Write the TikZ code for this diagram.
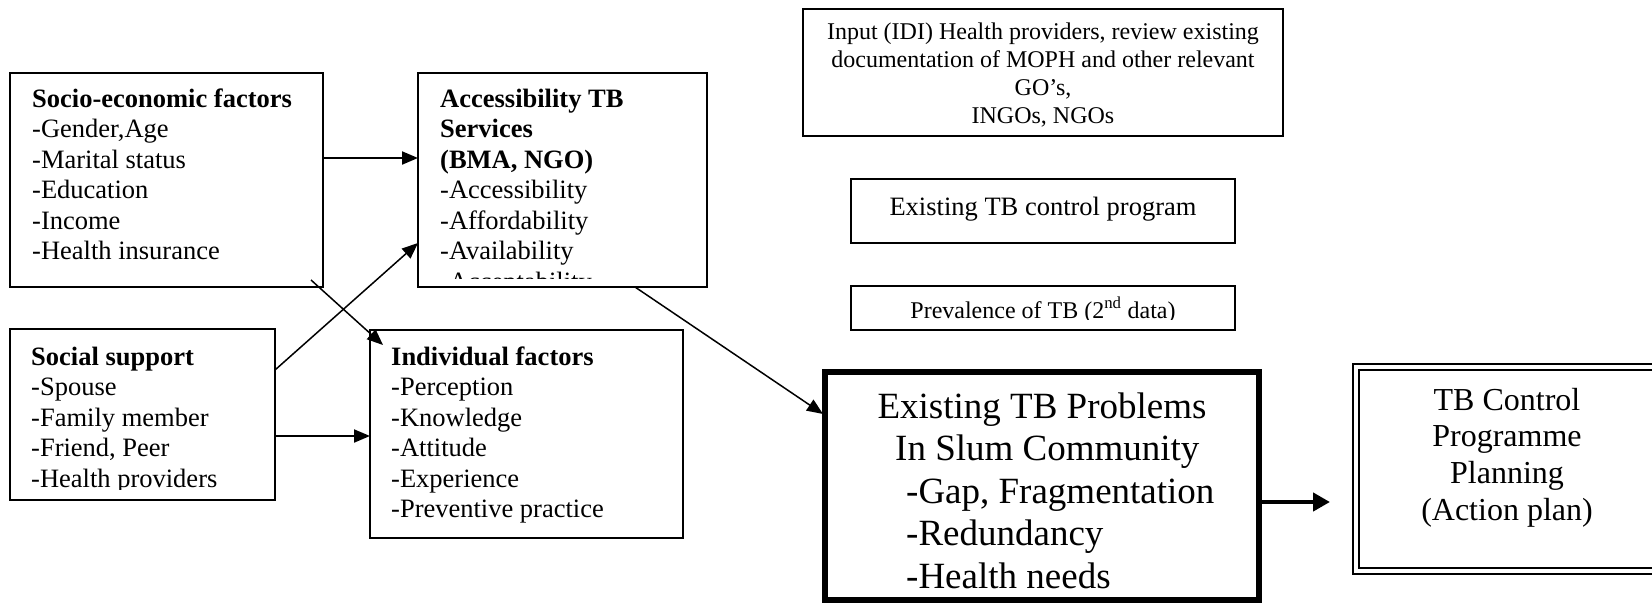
\documentclass[tikz,border=0pt]{standalone}
\usepackage{fontspec}
\setmainfont{Liberation Serif}
\usetikzlibrary{arrows.meta,calc}

\begin{document}
\begin{tikzpicture}[x=1pt,y=-1pt,
  frame/.style={draw,rectangle,line width=1.3pt,inner sep=0pt,outer sep=0pt},
  body/.style={font=\fontsize{26.5}{30.5}\selectfont,inner sep=0pt,anchor=base west},
  note/.style={font=\fontsize{24}{28}\selectfont,inner sep=0pt,anchor=base},
  big/.style={font=\fontsize{37}{42.5}\selectfont,inner sep=0pt},
  plantext/.style={font=\fontsize{32}{36.7}\selectfont,inner sep=0pt,anchor=base},
  link/.style={line width=1.5pt,-{Triangle[length=16pt,width=13pt]}},
  heavylink/.style={line width=4.5pt,-{Triangle[length=17pt,width=18pt]}}
]
\useasboundingbox (0,0) rectangle (1652,603);

% ---- frames ----
\node[frame,minimum width=313pt,minimum height=214pt] (soc)  at (166.5,180) {};
\node[frame,minimum width=289pt,minimum height=214pt] (acc)  at (562.5,180) {};
\node[frame,minimum width=265pt,minimum height=171pt] (sup)  at (142.5,414.5) {};
\node[frame,minimum width=313pt,minimum height=208pt] (ind)  at (526.5,434) {};
\node[frame,minimum width=480pt,minimum height=127pt] (inp)  at (1043,72.5) {};
\node[frame,minimum width=384pt,minimum height=64pt]  (ctl)  at (1043,211) {};
\node[frame,minimum width=384pt,minimum height=44pt]  (prev) at (1043,308) {};
\node[frame,line width=6pt,minimum width=434pt,minimum height=228pt] (prob) at (1042,486) {};
\node[frame,line width=2pt,minimum width=308pt,minimum height=210pt] (plan) at (1507,469) {};
\draw[line width=2pt] ($(plan.north west)+(6,6)$) rectangle ($(plan.south east)+(-6,-6)$);

% ---- texts ----
\node[body] (soc-t) at (32,107) {\begin{tabular}[t]{@{}l@{}}\textbf{Socio-economic factors}\\-Gender,Age\\-Marital status\\-Education\\-Income\\-Health insurance\end{tabular}};

\begin{scope}
  \clip (acc.north west) rectangle ($(acc.south east)+(0,-9)$);
  \node[body] (acc-t) at (440,107) {\begin{tabular}[t]{@{}l@{}}\textbf{Accessibility TB}\\\textbf{Services}\\\textbf{(BMA, NGO)}\\-Accessibility\\-Affordability\\-Availability\\-Acceptability\end{tabular}};
\end{scope}

\begin{scope}
  \clip (sup.north west) rectangle ($(sup.south east)+(0,-11)$);
  \node[body] (sup-t) at (31,365) {\begin{tabular}[t]{@{}l@{}}\textbf{Social support}\\-Spouse\\-Family member\\-Friend, Peer\\-Health providers\end{tabular}};
\end{scope}

\node[body] (ind-t) at (391,365) {\begin{tabular}[t]{@{}l@{}}\textbf{Individual factors}\\-Perception\\-Knowledge\\-Attitude\\-Experience\\-Preventive practice\end{tabular}};

\node[note] (inp-t) at (1043,39) {\begin{tabular}[t]{@{}c@{}}Input (IDI) Health providers, review existing\\documentation of MOPH and other relevant\\GO’s,\\INGOs, NGOs\end{tabular}};

\node[body,anchor=base] (ctl-t) at (1043,215) {Existing TB control program};

\begin{scope}
  \clip (prev.north west) rectangle ($(prev.south east)+(0,-11)$);
  \node[note] (prev-t) at (1043,318) {Prevalence of TB (2\textsuperscript{nd} data)};
\end{scope}

\node[big,anchor=base] (prob-1) at (1042,418) {Existing TB Problems};
\node[big,anchor=base west] (prob-2) at (895,460.5) {In Slum Community};
\node[big,anchor=base west] (prob-3) at (906,503) {-Gap, Fragmentation};
\node[big,anchor=base west] (prob-4) at (906,545.5) {-Redundancy};
\node[big,anchor=base west] (prob-5) at (906,588) {-Health needs};

\node[plantext] (plan-t) at (1507,410) {\begin{tabular}[t]{@{}c@{}}TB Control\\Programme\\Planning\\(Action plan)\end{tabular}};

% ---- connectors ----
\coordinate (r1) at (0,158);
\coordinate (r2) at (0,370);
\coordinate (r3) at (0,243);
\coordinate (r4) at (0,436);
\coordinate (c5) at (635,0);
\coordinate (r6) at (0,414);
\coordinate (r7) at (0,502);

\draw[link,line width=2pt] (soc.east |- r1) -- (acc.west |- r1);
\draw[link] ($(soc.south east)+(-12,-7)$) -- ($(ind.north west)+(13,15)$);
\draw[link] (sup.east |- r2) -- (acc.west |- r3);
\draw[link,line width=2pt] (sup.east |- r4) -- (ind.west |- r4);
\draw[link] (c5 |- acc.south) -- ($(prob.west |- r6)+(-2,0)$);
\draw[heavylink] (prob.east |- r7) -- ($(plan.west |- r7)+(-23,0)$);
\end{tikzpicture}
\end{document}
